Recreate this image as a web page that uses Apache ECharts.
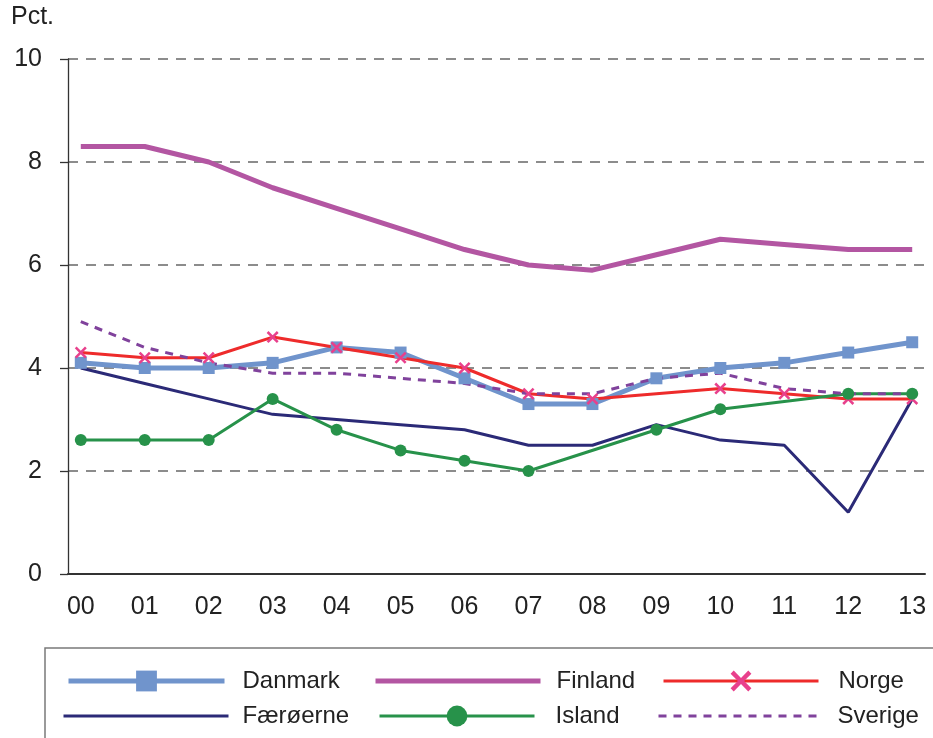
<!DOCTYPE html>
<html>
<head>
<meta charset="utf-8">
<script src="https://cdn.jsdelivr.net/npm/echarts@6/dist/echarts.min.js"></script>
<style>
  html, body { margin: 0; padding: 0; background: #fff; }
  #chart { width: 933px; height: 738px; }
</style>
</head>
<body>
<div id="chart"></div>
<script>
// Year labels on the x axis (2000-2013)
const years = ['00', '01', '02', '03', '04', '05', '06', '07', '08', '09', '10', '11', '12', '13'];
const yTicks = [0, 2, 4, 6, 8, 10];

// Percent values per country; null = no observation that year
const danmark   = [4.1, 4.0, 4.0, 4.1, 4.4, 4.3, 3.8, 3.3, 3.3, 3.8, 4.0, 4.1, 4.3, 4.5];
const finland   = [8.3, 8.3, 8.0, 7.5, 7.1, 6.7, 6.3, 6.0, 5.9, 6.2, 6.5, 6.4, 6.3, 6.3];
const norge     = [4.3, 4.2, 4.2, 4.6, 4.4, 4.2, 4.0, 3.5, 3.4, null, 3.6, 3.5, 3.4, 3.4];
const faeroerne = [4.0, 3.7, 3.4, 3.1, 3.0, 2.9, 2.8, 2.5, 2.5, 2.9, 2.6, 2.5, 1.2, 3.4];
const island    = [2.6, 2.6, 2.6, 3.4, 2.8, 2.4, 2.2, 2.0, null, 2.8, 3.2, null, 3.5, 3.5];
const sverige   = [4.9, 4.4, 4.1, 3.9, 3.9, 3.8, 3.7, 3.5, 3.5, 3.8, 3.9, 3.6, 3.5, 3.5];

const FONT = '"Liberation Sans", Arial, sans-serif';
const AXIS_FONT_SIZE = 25;
const LEGEND_FONT_SIZE = 24;
const crossPath = 'path://M0,1.5L1.5,0L5,3.5L8.5,0L10,1.5L6.5,5L10,8.5L8.5,10L5,6.5L1.5,10L0,8.5L3.5,5Z';

const pairs = vals => years.map((y, i) => [i, vals[i]]);

const chart = echarts.init(document.getElementById('chart'), null, { renderer: 'canvas' });

// One legend block per entry so each can sit in its own column
function legendItem(name, left, top, width, gap, lineWidth, withSymbol) {
  const item = { name: name };
  if (!withSymbol) item.itemStyle = { opacity: 0 };
  return {
    data: [item],
    left: left,
    top: top,
    orient: 'horizontal',
    itemWidth: width,
    itemHeight: 26,
    selectedMode: false,
    padding: 0,
    lineStyle: { width: lineWidth },
    textStyle: { fontFamily: FONT, fontSize: LEGEND_FONT_SIZE, color: '#222', padding: [0, 0, 0, gap] }
  };
}

chart.setOption({
  animation: false,
  backgroundColor: '#fff',
  grid: { left: 68, right: 8, top: 59, bottom: 164, containLabel: false },
  graphic: [
    { type: 'text', left: 11, top: 5,
      style: { text: 'Pct.', font: AXIS_FONT_SIZE + 'px ' + FONT, fill: '#222' } },
    { type: 'rect', shape: { x: 45, y: 648, width: 900, height: 110 },
      style: { fill: 'none', stroke: '#7a7a7a', lineWidth: 1.5 }, silent: true }
  ],
  xAxis: {
    type: 'value',
    min: -0.2,
    max: 13.2,
    z: 2,
    axisLine: { show: true, onZero: false, lineStyle: { color: '#333', width: 2 } },
    axisTick: { show: false },
    splitLine: { show: false },
    axisLabel: {
      customValues: years.map((y, i) => i),
      formatter: v => years[Math.round(v)],
      fontFamily: FONT, fontSize: AXIS_FONT_SIZE, color: '#222', margin: 21
    }
  },
  yAxis: {
    type: 'value',
    min: 0,
    max: 10,
    interval: 2,
    axisLine: { show: true, onZero: false, lineStyle: { color: '#333', width: 1.3 } },
    axisTick: { show: true, inside: false, length: 8, lineStyle: { color: '#333', width: 1.3 } },
    splitLine: { show: true, lineStyle: { color: '#8c8c8c', width: 1.8, type: [10, 8] } },
    axisLabel: {
      customValues: yTicks,
      fontFamily: FONT, fontSize: AXIS_FONT_SIZE, color: '#222', margin: 26
    }
  },
  legend: [
    legendItem('Danmark', 66, 669, 156, 13, 5, true),
    legendItem('Finland', 373, 669, 165, 11, 5, false),
    legendItem('Norge', 662, 669, 155, 15, 3, true),
    legendItem('Færøerne', 62, 704, 165, 9, 3, false),
    legendItem('Island', 378, 704, 155, 16, 3, true),
    legendItem('Sverige', 657, 704, 165, 9, 3, false)
  ],
  series: [
    {
      name: 'Danmark', type: 'line', data: pairs(danmark), connectNulls: true,
      symbol: 'rect', symbolSize: 12, showAllSymbol: true,
      lineStyle: { color: '#7094cc', width: 5 }, itemStyle: { color: '#7094cc' }
    },
    {
      name: 'Finland', type: 'line', data: pairs(finland), connectNulls: true,
      symbol: 'none',
      lineStyle: { color: '#b356a2', width: 5 }, itemStyle: { color: '#b356a2' }
    },
    {
      name: 'Norge', type: 'line', data: pairs(norge), connectNulls: true,
      symbol: crossPath, symbolSize: 12, showAllSymbol: true,
      lineStyle: { color: '#ee2b2b', width: 3 }, itemStyle: { color: '#e8408c' }
    },
    {
      name: 'Færøerne', type: 'line', data: pairs(faeroerne), connectNulls: true,
      symbol: 'none',
      lineStyle: { color: '#2b2a77', width: 3 }, itemStyle: { color: '#2b2a77' }
    },
    {
      name: 'Island', type: 'line', data: pairs(island), connectNulls: true,
      symbol: 'circle', symbolSize: 12, showAllSymbol: true,
      lineStyle: { color: '#27924a', width: 3 }, itemStyle: { color: '#27924a' }
    },
    {
      name: 'Sverige', type: 'line', data: pairs(sverige), connectNulls: true,
      symbol: 'none',
      lineStyle: { color: '#80429c', width: 3, type: [8, 7] }, itemStyle: { color: '#80429c' }
    }
  ]
});
</script>
</body>
</html>
